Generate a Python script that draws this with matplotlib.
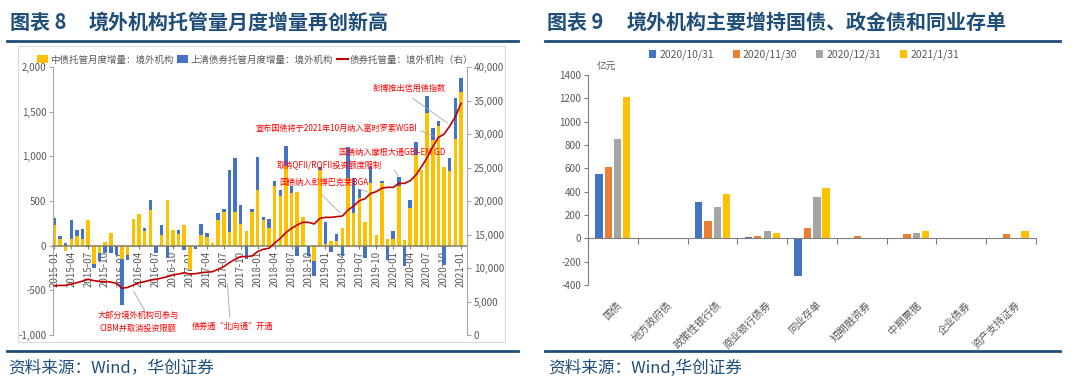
import matplotlib
matplotlib.use('Agg')
import matplotlib.pyplot as plt
import numpy as np
import pandas as pd
from matplotlib.patches import Rectangle, Patch
from matplotlib.lines import Line2D
from matplotlib.ticker import FuncFormatter, MultipleLocator

plt.rcParams['font.family'] = ['Noto Sans CJK SC', 'DejaVu Sans']
plt.rcParams['axes.unicode_minus'] = False

# ---------------- data: left chart ----------------
months = list(pd.period_range('2015-01', '2021-01', freq='M').strftime('%Y-%m'))
zhongzhai = [230, 75, -55, 80, 110, 75, 290, -200, -80, 40, 140, 0,
             -150, -110, 300, 360, 165, 395, 0, 115, 515, 180, 135, 230,
             -270, 0, 115, 95, 35, 290, 375, 150, 380, 245, 160, 375,
             625, 290, 200, 665, 555, 890, 585, 600, 320, 0, -170, 850,
             20, 50, 50, 200, 760, 370, 530, 265, 705, 125, 705, 75,
             75, 665, 65, 425, 1020, 845, 1490, 1185, 1340, 885, 835, 1190,
             1720]
shangqing = [85, 30, 25, 205, 70, 110, -10, -50, -95, -80, -80, -100,
             -510, -45, -15, -10, 35, 120, -80, 120, -140, -20, 35, -45,
             -10, -40, 125, 45, 0, 75, 40, 695, 600, 215, -150, 40,
             370, 30, 100, 55, 65, 225, 80, -120, 0, -120, -165, 30,
             240, -70, 85, -120, 340, 390, 105, -140, 185, -15, 20, -160,
             85, 105, -230, 90, 145, -20, 180, 135, 50, -220, 145, 460,
             155]
holdings = [7360, 7400, 7400, 7600, 7810, 8050, 8310, 8110, 8000, 7960, 7900, 7710,
            6970, 7110, 7460, 7810, 7960, 8200, 8310, 8500, 8700, 8960, 9100, 9300,
            9100, 9150, 9300, 9380, 9450, 9800, 10200, 10800, 11300, 11700, 11700, 11800,
            12450, 12800, 12950, 13700, 14430, 15280, 15920, 16420, 16820, 16820, 16570, 17410,
            17560, 17560, 17660, 17760, 18650, 19250, 20040, 20340, 21140, 21390, 21930, 22040,
            22040, 22630, 22630, 23030, 23870, 25110, 26460, 28100, 29490, 29990, 31180, 32580,
            34570]
left_legend = ['中债托管月度增量：境外机构', '上清债券托管月度增量：境外机构', '债券托管量：境外机构（右）']

# ---------------- data: right chart ----------------
categories = ['国债', '地方政府债', '政策性银行债', '商业银行债券', '同业存单',
              '短期融资券', '中期票据', '企业债券', '资产支持证券']
dates = ['2020/10/31', '2020/11/30', '2020/12/31', '2021/1/31']
v_1031 = [550, 0, 309, 11, -320, -5, 5, 0, 0]
v_1130 = [610, 0, 151, 17, 89, 23, 34, 0, 34]
v_1231 = [851, 0, 269, 60, 354, 0, 46, 0, 0]
v_0131 = [1210, 0, 377, 43, 429, 0, 60, 3, 63]

W, H = 1080, 390
fig = plt.figure(figsize=(10.8, 3.9), dpi=100)


def fx(px):
    return px / W


def fy(py):
    return 1 - py / H


TITLE_C = '#1F4E79'
GRAY_T = '#595959'
TFS = 14.4

# ---------------- titles / rules / sources ----------------
fig.text(fx(10), fy(22), '图表 8', fontsize=TFS, fontweight='bold', color=TITLE_C, va='center')
fig.text(fx(89), fy(22), '境外机构托管量月度增量再创新高', fontsize=TFS, fontweight='bold',
         color=TITLE_C, va='center')
fig.text(fx(547), fy(22), '图表 9', fontsize=TFS, fontweight='bold', color=TITLE_C, va='center')
fig.text(fx(627), fy(22), '境外机构主要增持国债、政金债和同业存单', fontsize=TFS, fontweight='bold',
         color=TITLE_C, va='center')
for (x0, x1) in [(7, 518), (545, 1060)]:
    fig.add_artist(Line2D([fx(x0), fx(x1)], [fy(40.5), fy(40.5)], color=TITLE_C, lw=2,
                          transform=fig.transFigure))
    fig.add_artist(Line2D([fx(x0), fx(x1)], [fy(351), fy(351)], color=TITLE_C, lw=2,
                          transform=fig.transFigure))
fig.text(fx(8), fy(368), '资料来源：Wind，华创证券', fontsize=12, color=TITLE_C, va='center',
         style='italic')
fig.text(fx(548), fy(368), '资料来源：Wind,华创证券', fontsize=12, color=TITLE_C, va='center',
         style='italic')

fig.add_artist(Rectangle((fx(18), fy(342)), (505 - 18) / W, (342 - 46) / H,
                         transform=fig.transFigure, fill=False, ec='#D9D9D9', lw=0.8))

# ---------------- left chart ----------------
ax1 = fig.add_axes([fx(53.3), fy(335), (467 - 53.3) / W, 268 / H])
x = np.arange(len(months))
yv = np.array(zhongzhai, dtype=float)
bv = np.array(shangqing, dtype=float)
bottom_b = np.where((np.sign(bv) == np.sign(yv)) & (yv != 0), yv, 0)
ax1.bar(x, yv, width=0.62, color='#FFC000', zorder=2)
ax1.bar(x, bv, bottom=bottom_b, width=0.62, color='#4472C4', zorder=2)
ax1.set_xlim(-0.18, 73.06)
ax1.set_ylim(-1000, 2000)
ax1.yaxis.set_major_locator(MultipleLocator(500))
ax1.yaxis.set_major_formatter(FuncFormatter(lambda v, p: f'{v:,.0f}'))
ax1.spines['top'].set_visible(False)
ax1.spines['right'].set_visible(False)
ax1.spines['left'].set_color('#A6A6A6')
ax1.spines['bottom'].set_position(('data', 0))
ax1.spines['bottom'].set_color('#7F7F5F')
ax1.spines['bottom'].set_linewidth(1.1)
ax1.spines['bottom'].set_zorder(3)
ax1.set_xticks(x[::3])
ax1.set_xticklabels(months[::3], rotation=90, fontsize=7, color=GRAY_T)
ax1.tick_params(axis='x', length=2, color='#7F7F7F', pad=1.5)
ax1.tick_params(axis='y', labelsize=7, labelcolor=GRAY_T, length=3, color='#A6A6A6', pad=2)

ax2 = ax1.twinx()
ax2.plot(x, holdings, color='#C00000', lw=1.2, zorder=3)
ax2.set_ylim(0, 40000)
ax2.yaxis.set_major_locator(MultipleLocator(5000))
ax2.yaxis.set_major_formatter(FuncFormatter(lambda v, p: f'{v:,.0f}'))
for s in ['top', 'left', 'bottom']:
    ax2.spines[s].set_visible(False)
ax2.spines['right'].set_color('#A6A6A6')
ax2.tick_params(axis='y', labelsize=7, labelcolor=GRAY_T, length=3, color='#A6A6A6', pad=2)

RED = '#FF0000'
ANN_FS = 5.9
notes = [
    ('大部分境外机构可参与\nCIBM并取消投资限额', (14.8, -855), (16.4, -773), (13.8, -482), 'center'),
    ('债券通“北向通”开通', (31.5, -907), (31.1, -829), (30.6, -392), 'center'),
    ('国债纳入彭博巴克莱BGA', (47.7, 706), (47.0, 594), (50.9, 347), 'center'),
    ('取消QFII/RQFII投资额度限制', (48.6, 896), (53.6, 640), (55.9, 594), 'center'),
    ('国债纳入摩根大通GBI-EM GD', (59.8, 1042), (59.9, 874), (61.2, 750), 'center'),
    ('宣布国债将于2021年10月纳入富时罗素WGBI', (50.0, 1310), (64.4, 1299), (67.7, 1210), 'center'),
    ('彭博推出信用债指数', (62.8, 1758), (63.0, 1669), (70.0, 1355), 'center'),
]
for txt, tpos, a0, a1, ha in notes:
    ax1.annotate('', xy=a1, xytext=a0,
                 arrowprops=dict(arrowstyle='-', color='#A6A6A6', lw=0.6), zorder=4)
    ax1.text(tpos[0], tpos[1], txt, fontsize=ANN_FS, color=RED, ha=ha, va='center',
             zorder=5, linespacing=1.5)

fig.legend(handles=[Patch(fc='#FFC000'), Patch(fc='#4472C4'),
                    Line2D([], [], color='#C00000', lw=1.5)],
           labels=left_legend, loc='center', bbox_to_anchor=(fx(255), fy(60)), ncol=3,
           frameon=False, fontsize=6.8, handlelength=1.2, handleheight=0.9,
           handletextpad=0.2, columnspacing=0.4, labelcolor=GRAY_T)

# ---------------- right chart ----------------
ax3 = fig.add_axes([fx(588), fy(285), 448 / W, 210 / H])
cx = np.arange(len(categories))
series = [v_1031, v_1130, v_1231, v_0131]
colors = ['#4472C4', '#ED7D31', '#A5A5A5', '#FFC000']
offsets = [-0.28, -0.09, 0.10, 0.28]
for vals, c, off, lab in zip(series, colors, offsets, dates):
    ax3.bar(cx + off, vals, width=0.145, color=c, label=lab, zorder=2)
ax3.set_xlim(-0.5, 8.5)
ax3.set_ylim(-400, 1400)
ax3.yaxis.set_major_locator(MultipleLocator(200))
ax3.spines['top'].set_visible(False)
ax3.spines['right'].set_visible(False)
ax3.spines['left'].set_color('#7F7F7F')
ax3.spines['bottom'].set_position(('data', 0))
ax3.spines['bottom'].set_color('#7F7F7F')
ax3.spines['bottom'].set_zorder(3)
ax3.set_xticks(np.arange(-0.5, 9, 1))
ax3.set_xticklabels([])
ax3.tick_params(axis='x', length=4, color='#7F7F7F', direction='out')
ax3.tick_params(axis='y', labelsize=7, labelcolor=GRAY_T, length=3, color='#7F7F7F', pad=2)
for i, cat in enumerate(categories):
    ax3.text(i + 0.08, -0.07, cat, transform=ax3.get_xaxis_transform(), rotation=45,
             rotation_mode='anchor', ha='right', va='top', fontsize=7.5, color=GRAY_T)
fig.text(fx(597), fy(67), '亿元', fontsize=7, color=GRAY_T, va='center')

handles = [Patch(fc=c) for c in colors]
fig.legend(handles=handles, labels=dates, loc='center', bbox_to_anchor=(fx(804), fy(55)),
           ncol=4, frameon=False, fontsize=7.5, handlelength=0.7, handleheight=0.7,
           handletextpad=0.3, columnspacing=1.8, labelcolor=GRAY_T)

fig.savefig('out.png', dpi=100)
